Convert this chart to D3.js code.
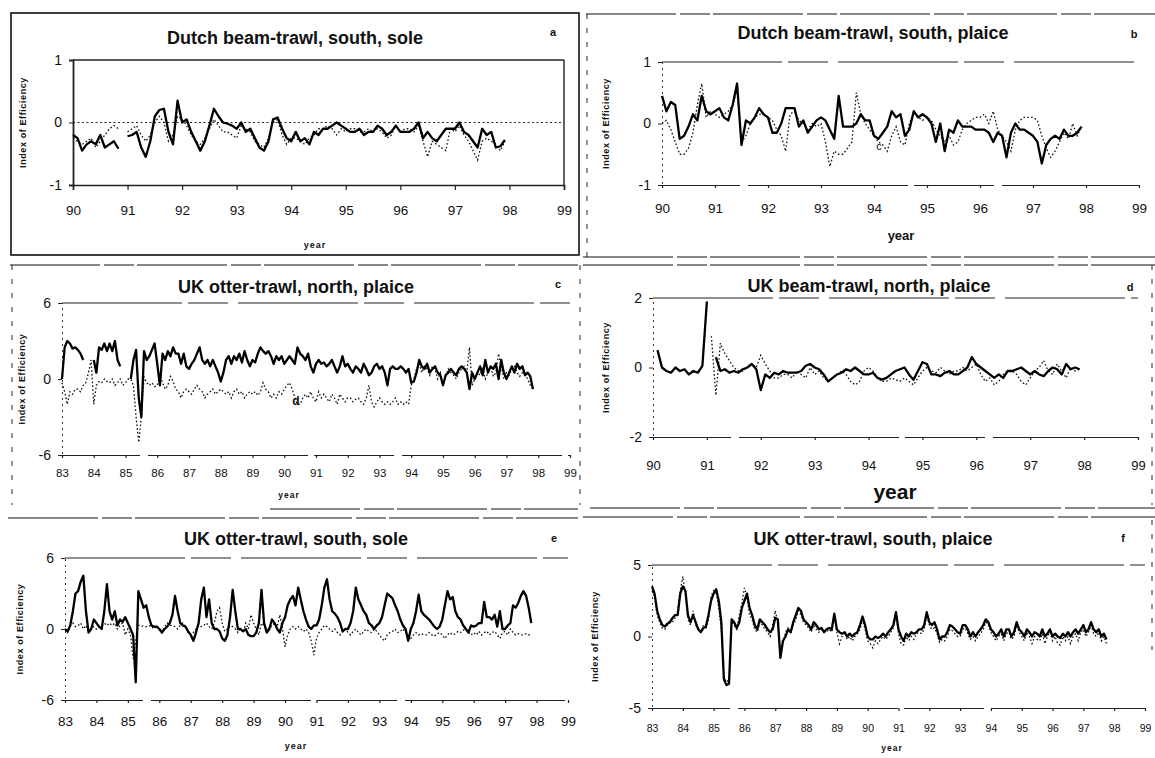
<!DOCTYPE html>
<html>
<head>
<meta charset="utf-8">
<script src="https://cdn.jsdelivr.net/npm/d3@7/dist/d3.min.js"></script>
<style>
  body { margin: 0; background: #fff; }
  svg { display: block; }
  text { font-family: "Liberation Sans", Arial, sans-serif; fill: #111; }
</style>
</head>
<body>
<svg id="fig" width="1155" height="758"></svg>
<script>
// monthly values, one row per year (Jan..Dec), null = no data
const shortYears = ["90", "91", "92", "93", "94", "95", "96", "97", "98", "99"];
const longYears = ["83", "84", "85", "86", "87", "88", "89", "90", "91", "92", "93", "94", "95", "96", "97", "98", "99"];

const aSolid = [
  [-0.2, -0.25, -0.45, -0.35, -0.3, -0.35, -0.2, -0.4, -0.35, -0.3, -0.42, null],
  [-0.22, -0.2, -0.15, -0.4, -0.55, -0.3, 0.1, 0.2, 0.22, -0.15, -0.35, 0.35],
  [0.0, 0.05, -0.15, -0.3, -0.45, -0.3, -0.05, 0.22, 0.1, 0.0, -0.02, -0.05],
  [-0.1, 0.0, -0.15, -0.1, -0.25, -0.4, -0.45, -0.3, 0.05, 0.08, -0.1, -0.25],
  [-0.3, -0.15, -0.3, -0.25, -0.35, -0.15, -0.2, -0.1, -0.1, -0.05, 0.0, -0.05],
  [-0.1, -0.15, -0.15, -0.1, -0.2, -0.15, -0.15, -0.05, -0.1, -0.2, -0.15, -0.05],
  [-0.15, -0.15, -0.15, -0.1, 0.0, -0.25, -0.15, -0.25, -0.3, -0.2, -0.1, -0.1],
  [-0.1, 0.0, -0.15, -0.2, -0.3, -0.4, -0.1, -0.2, -0.15, -0.4, -0.38, -0.28]
];
const aDotted = [
  [-0.25, -0.3, -0.35, -0.3, -0.25, -0.4, -0.3, -0.2, -0.1, -0.05, -0.1, null],
  [-0.15, -0.1, -0.05, -0.2, -0.3, -0.2, 0.0, 0.1, 0.0, -0.3, -0.2, 0.1],
  [0.05, -0.05, -0.2, -0.3, -0.35, -0.25, -0.1, 0.05, -0.05, -0.15, -0.15, -0.2],
  [-0.25, -0.05, -0.1, -0.15, -0.3, -0.35, -0.4, -0.25, 0.0, 0.05, -0.2, -0.35],
  [-0.25, -0.25, -0.3, -0.35, -0.25, -0.2, -0.1, -0.1, -0.05, -0.1, -0.2, -0.1],
  [-0.15, -0.1, -0.1, -0.15, -0.15, -0.1, -0.15, -0.1, -0.15, -0.25, -0.2, -0.05],
  [-0.15, -0.1, -0.1, -0.15, -0.05, -0.3, -0.55, -0.3, -0.35, -0.4, -0.45, -0.1],
  [-0.15, -0.05, -0.2, -0.3, -0.45, -0.6, -0.3, -0.25, -0.3, -0.35, -0.45, -0.3]
];

const bSolid = [
  [0.45, 0.2, 0.35, 0.3, -0.25, -0.2, -0.05, 0.15, 0.05, 0.45, 0.2, 0.15],
  [0.2, 0.25, 0.1, 0.05, 0.3, 0.65, -0.35, 0.05, 0.0, 0.1, 0.25, 0.15],
  [0.1, -0.15, -0.15, 0.0, 0.25, 0.25, 0.25, -0.05, 0.05, -0.15, -0.05, 0.05],
  [0.1, 0.05, -0.1, -0.25, 0.45, -0.05, -0.05, -0.05, 0.0, 0.15, 0.05, 0.05],
  [-0.2, -0.25, -0.15, -0.05, 0.2, 0.1, 0.15, -0.2, -0.1, 0.2, 0.1, 0.15],
  [0.1, 0.0, -0.3, 0.0, -0.45, -0.1, -0.15, 0.05, -0.05, -0.05, -0.05, -0.1],
  [-0.1, -0.1, -0.15, -0.3, -0.15, -0.2, -0.55, -0.15, 0.0, -0.1, -0.1, -0.15],
  [-0.2, -0.3, -0.65, -0.35, -0.25, -0.2, -0.25, -0.1, -0.2, -0.2, -0.15, -0.05]
];
const bDotted = [
  [0.0, 0.05, -0.1, -0.3, -0.5, -0.5, -0.4, -0.15, 0.3, 0.65, 0.1, 0.2],
  [0.15, 0.1, 0.15, 0.2, 0.3, 0.55, -0.3, -0.2, 0.0, 0.1, 0.15, 0.15],
  [0.1, 0.05, -0.1, -0.2, -0.45, 0.15, 0.2, 0.05, 0.0, -0.1, 0.0, -0.05],
  [0.0, -0.3, -0.7, -0.45, -0.5, -0.5, -0.4, -0.3, 0.5, 0.15, 0.0, -0.1],
  [-0.2, -0.3, -0.35, -0.45, -0.2, -0.05, -0.3, -0.35, 0.0, 0.15, 0.1, 0.05],
  [0.1, 0.05, -0.1, -0.2, -0.3, -0.2, -0.35, -0.3, -0.1, 0.0, 0.05, 0.1],
  [0.1, 0.15, 0.0, 0.2, -0.1, -0.2, -0.3, -0.45, -0.1, 0.05, 0.1, 0.1],
  [0.1, 0.05, -0.2, -0.4, -0.55, -0.45, -0.3, -0.15, -0.25, 0.0, -0.2, -0.05]
];

const cSolid = [
  [0.0, 2.5, 3.0, 2.8, 2.4, 2.5, 2.3, 2.0, 1.5, null, null, null],
  [1.5, 0.5, 2.5, 2.3, 2.8, 2.2, 2.8, 2.2, 3.0, 1.5, 1.0, null],
  [null, null, 0.0, 1.5, 2.3, -1.5, -3.0, 2.2, 1.5, 1.8, 2.3, 2.8],
  [1.2, -0.5, 2.0, 1.5, 2.2, 1.8, 2.5, 2.0, 2.0, 1.2, 2.0, 1.0],
  [0.8, 1.2, 1.5, 2.0, 2.5, 1.5, 1.2, 1.5, 1.0, 1.5, 1.0, 0.5],
  [-0.2, 0.5, 1.5, 1.8, 1.2, 1.8, 1.5, 2.0, 1.3, 2.2, 1.5, 1.0],
  [1.5, 1.3, 2.0, 2.5, 2.2, 2.0, 2.2, 1.8, 1.2, 1.8, 1.5, 1.8],
  [1.2, 1.5, 1.8, 1.5, 1.2, 2.5, 2.0, 1.8, 1.5, 2.0, 1.0, 0.5],
  [1.2, 1.5, 1.2, 1.3, 1.0, 1.2, 1.5, 1.0, 0.5, 1.0, 1.8, 1.0],
  [1.2, 0.8, 0.5, 1.0, 0.8, 0.5, 1.2, 0.8, 0.3, 0.5, 1.0, 1.2],
  [0.8, 1.0, 0.5, -0.5, 0.8, 1.0, 0.8, 0.8, 1.0, 0.8, 0.5, 0.8],
  [-0.3, -0.2, 0.5, 1.5, 1.0, 0.8, 1.2, 0.5, 0.8, 1.0, 0.5, 0.3],
  [-0.5, 0.3, 0.5, 0.8, 0.5, 0.3, 0.8, 1.0, 0.8, 0.5, -0.8, 0.5],
  [0.0, 0.5, 1.0, 0.3, 1.5, 0.5, 1.0, 0.8, 1.2, 0.0, 1.5, 0.5],
  [0.0, 0.5, 1.0, 0.5, 1.2, 0.8, 1.0, 0.3, 0.5, 0.2, -0.8, null]
];
const cDotted = [
  [-0.3, -1.0, -2.0, -1.0, -1.2, -0.8, -0.8, -1.0, -0.5, -0.3, 0.5, 1.5],
  [-2.0, -0.5, -0.2, -0.3, 0.0, -0.2, -0.3, 0.0, -0.5, -0.3, 0.0, -0.5],
  [-0.3, 0.0, 0.0, -0.5, -3.0, -5.0, -3.0, 0.2, -0.3, -0.5, -0.3, -0.6],
  [-0.5, 0.3, -0.3, -0.8, -0.5, 0.2, -0.2, -0.8, -1.0, -1.5, -1.0, -0.8],
  [-1.0, -1.2, -0.8, -0.5, -0.8, -1.0, -1.5, -1.2, -1.0, -0.8, -1.2, -1.0],
  [-0.8, -1.0, -1.2, -1.0, -1.5, -1.0, -0.8, -1.2, -1.0, -1.5, -1.2, -1.0],
  [-1.2, -1.0, -1.3, -1.0, -0.3, -0.8, -1.0, -1.5, -1.2, -1.5, -1.0, -1.2],
  [-0.8, -0.5, -0.3, -0.8, -1.5, -2.0, -2.0, -1.5, -1.2, -1.5, -1.0, -1.5],
  [-1.8, -1.0, -1.5, -1.2, -1.5, -1.8, -1.2, -1.5, -2.0, -1.2, -1.5, -1.8],
  [-1.5, -1.5, -1.8, -1.6, -1.5, -1.8, -2.0, -1.5, -0.5, -1.8, -2.2, -1.8],
  [-1.5, -1.8, -2.0, -1.8, -2.0, -1.8, -1.5, -2.0, -1.8, -2.0, -1.8, -2.0],
  [-0.5, 0.0, 0.8, 1.2, 0.5, 1.0, 0.8, 0.3, 1.0, 0.8, 0.0, 0.5],
  [-0.5, 0.2, 0.8, 0.5, 0.3, 0.0, 0.5, 0.8, 1.0, 0.5, 2.5, -0.5],
  [0.0, 0.5, 0.3, 0.8, 0.0, 0.5, 1.0, 0.2, 0.5, 2.0, 1.0, 0.0],
  [0.5, 0.3, 0.8, 1.0, 0.5, 0.2, 0.5, 0.3, 0.0, -0.5, -0.8, null]
];

const dSolid = [
  [null, 0.5, 0.0, -0.1, -0.15, 0.0, -0.1, -0.05, -0.2, -0.1, -0.15, 0.05],
  [1.9, null, 0.3, -0.1, -0.05, -0.15, -0.1, -0.15, -0.05, 0.0, 0.1, -0.05],
  [-0.65, -0.2, -0.3, -0.15, -0.2, -0.1, -0.15, -0.15, -0.15, -0.1, 0.05, 0.1],
  [0.0, -0.05, -0.2, -0.4, -0.3, -0.2, -0.15, -0.05, -0.1, 0.0, -0.1, -0.2],
  [-0.2, -0.15, -0.3, -0.35, -0.3, -0.2, -0.1, -0.05, 0.0, -0.2, -0.35, -0.1],
  [0.15, 0.1, -0.2, -0.2, -0.25, -0.15, -0.1, -0.2, -0.2, -0.1, 0.0, 0.3],
  [0.1, 0.0, -0.1, -0.2, -0.3, -0.2, -0.3, -0.1, -0.1, -0.05, 0.0, -0.1],
  [-0.2, -0.1, -0.2, -0.25, -0.1, 0.0, -0.05, -0.2, 0.1, -0.05, 0.0, -0.05]
];
const dDotted = [
  [null, null, null, null, null, null, null, null, null, null, null, null],
  [null, 0.9, -0.8, 0.7, 0.4, 0.2, 0.0, -0.1, -0.1, 0.0, 0.1, 0.0],
  [0.35, 0.1, -0.1, -0.3, -0.3, -0.2, -0.2, -0.3, -0.1, -0.2, -0.3, 0.0],
  [-0.2, -0.1, -0.3, -0.4, -0.3, -0.2, -0.1, -0.2, -0.4, -0.5, -0.4, -0.1],
  [0.0, -0.1, -0.3, -0.4, -0.4, -0.3, -0.35, -0.4, -0.3, -0.4, -0.5, -0.3],
  [-0.1, 0.0, -0.1, -0.15, 0.0, -0.1, -0.2, -0.1, -0.1, 0.0, -0.1, 0.0],
  [0.1, -0.2, -0.4, -0.3, -0.5, -0.4, -0.2, -0.1, -0.1, -0.2, -0.4, -0.5],
  [-0.3, -0.1, 0.0, 0.2, -0.1, -0.2, 0.1, -0.1, -0.3, 0.0, -0.1, -0.05]
];

const eSolid = [
  [0.0, -0.2, 0.3, 1.5, 3.0, 3.2, 4.0, 4.5, 1.5, -0.3, 0.0, 0.8],
  [0.5, 0.2, 0.0, 1.5, 3.8, 1.5, 0.8, 1.5, 0.3, 0.8, 0.6, 1.0],
  [0.5, 0.0, -0.5, -4.5, 3.2, 2.5, 1.8, 2.0, 1.0, 0.3, 0.2, 0.2],
  [0.0, -0.3, 0.0, 0.2, 0.5, 1.2, 2.8, 1.5, 0.5, 0.3, 0.2, -0.2],
  [-0.5, -1.0, -0.3, 0.5, 2.5, 3.5, 1.0, 2.5, 0.5, 0.0, 0.0, -0.2],
  [-0.8, -1.0, -0.5, 1.0, 3.3, 1.5, 0.0, 0.0, -0.2, 0.0, -0.5, -0.6],
  [-0.6, -0.3, 0.5, 3.3, 0.5, -0.3, 0.0, 0.8, 0.5, 0.0, -0.3, 0.5],
  [1.0, 2.0, 2.5, 2.8, 2.0, 3.5, 2.5, 1.5, 0.8, 0.2, 0.0, 0.3],
  [0.3, 0.8, 2.0, 3.5, 4.2, 2.5, 1.5, 1.3, 1.0, 0.5, -0.2, 0.0],
  [0.0, 0.5, 1.5, 3.5, 2.5, 2.0, 1.5, 1.2, 0.5, 0.3, 0.0, 0.3],
  [0.5, 1.0, 2.0, 3.0, 2.8, 2.6, 2.0, 1.5, 0.8, 0.3, 0.0, -1.0],
  [0.0, 0.5, 1.5, 2.9, 1.5, 1.2, 1.0, 0.8, 0.5, 0.2, 0.0, 0.2],
  [0.8, 2.0, 3.2, 2.5, 2.7, 1.5, 1.0, 0.8, 0.3, 0.0, -0.3, 0.3],
  [0.2, 0.3, 0.5, 0.5, 2.3, 1.0, 1.0, 0.8, 1.2, 0.2, 1.5, 0.0],
  [0.0, 0.3, 0.5, 2.0, 1.8, 2.2, 2.8, 3.2, 2.8, 1.8, 0.5, null]
];
const eDotted = [
  [0.0, -0.3, 0.3, 0.5, 0.2, 0.3, 0.5, 0.0, 0.3, -0.2, 0.0, 0.2],
  [0.0, 0.2, 0.3, 0.5, 0.3, 0.5, 0.3, 0.5, 0.0, 0.3, 0.5, -0.5],
  [0.0, -0.5, -2.5, -1.0, 0.3, 0.3, 0.2, 0.2, 0.3, 0.2, 0.0, 0.3],
  [0.0, -0.3, 0.2, 0.5, 0.3, 0.3, 0.2, 0.0, 0.3, 0.5, 0.2, -0.3],
  [-0.5, -0.3, 0.0, 0.3, 0.2, 0.3, 0.5, 0.2, 0.0, 0.5, 1.5, 1.8],
  [0.5, -0.2, 0.0, 0.3, 0.2, 0.0, -0.3, 0.0, -0.3, 0.5, 0.0, 1.2],
  [0.5, 0.0, -0.5, 0.5, 0.3, 0.0, 0.0, 0.3, 0.5, 0.2, 1.2, 0.0],
  [-1.5, -0.5, 0.0, 0.2, 0.0, 0.2, 0.0, -0.2, 0.0, -0.3, -1.0, -2.2],
  [-0.8, -0.3, 0.0, 0.3, 0.2, 0.0, -0.2, 0.0, -0.3, -0.5, -0.2, 0.0],
  [-0.3, -0.5, -0.2, 0.0, -0.3, -0.5, -0.2, 0.0, -0.2, -0.3, 0.0, -0.2],
  [-0.5, -0.8, -1.0, -0.5, -0.3, -0.2, 0.0, -0.3, -0.2, 0.0, -0.3, -0.5],
  [-0.8, -0.5, -0.3, -0.5, -0.4, -0.5, -0.5, -0.3, -0.5, -0.6, -0.4, -0.3],
  [-0.5, -0.8, -0.5, -0.3, -0.5, -0.4, -0.2, -0.3, -0.1, 0.0, -0.3, -0.5],
  [-0.3, -0.5, -0.2, -0.5, -0.3, -0.2, -0.5, -0.3, -0.2, -0.5, -0.8, -0.3],
  [-0.2, -0.5, 0.0, -0.3, -0.5, -0.4, -0.5, -0.5, -0.4, -0.5, -0.4, null]
];

const fSolid = [
  [3.5, 3.0, 1.8, 1.2, 0.8, 0.7, 0.9, 1.0, 1.3, 1.5, 1.5, 3.0],
  [3.5, 3.2, 1.5, 1.0, 1.5, 1.0, 0.5, 0.3, 0.6, 0.7, 1.5, 2.5],
  [3.0, 3.3, 2.5, 1.0, -3.0, -3.4, -3.3, 1.2, 1.0, 0.6, 1.0, 2.0],
  [2.5, 3.0, 2.0, 1.5, 0.8, 0.5, 1.2, 1.0, 0.8, 0.5, 0.3, 0.5],
  [1.3, 1.2, -1.5, -0.3, 0.0, 0.5, 0.3, 1.0, 1.5, 2.0, 1.8, 1.2],
  [1.0, 0.8, 0.5, 1.0, 0.8, 0.5, 0.6, 0.3, 0.5, 0.6, 0.5, 1.6],
  [0.5, 0.3, 0.2, 0.3, 0.0, 0.2, 0.0, 0.2, 0.3, 0.8, 1.4, 0.8],
  [0.0, -0.2, -0.2, 0.0, -0.1, 0.0, 0.2, 0.0, 0.3, 0.5, 0.8, 1.7],
  [0.5, 0.0, -0.3, 0.2, 0.0, 0.3, 0.2, 0.3, 0.5, 0.5, 0.8, 1.7],
  [1.0, 0.8, 1.0, 0.5, -0.2, 0.0, 0.0, 0.3, 0.8, 0.7, 0.5, 0.3],
  [0.2, 0.8, 0.8, 0.5, 0.0, 0.3, 0.0, 0.3, 0.5, 0.8, 1.2, 1.0],
  [0.5, 0.3, 0.0, 0.2, 0.5, 0.0, 0.5, 0.5, 0.0, 0.3, 1.0, 0.5],
  [0.3, 0.0, 0.5, 0.3, 0.0, 0.3, 0.2, 0.0, 0.5, 0.0, 0.2, 0.5],
  [0.0, 0.2, 0.0, -0.1, 0.2, 0.0, 0.3, 0.0, 0.3, 0.5, 0.2, 0.5],
  [0.8, 0.3, 0.5, 1.0, 0.5, 0.3, 0.5, 0.0, 0.2, -0.2, null, null]
];
const fDotted = [
  [3.2, 2.8, 1.5, 1.0, 0.6, 0.5, 0.8, 1.2, 1.0, 1.3, 1.8, 3.2],
  [4.2, 3.0, 1.2, 0.8, 1.8, 0.8, 0.6, 0.3, 0.8, 0.5, 1.2, 2.8],
  [3.2, 3.0, 2.0, 0.5, -2.8, -3.2, -3.0, 1.0, 0.8, 0.5, 1.5, 2.3],
  [3.4, 2.8, 1.5, 1.2, 0.5, 0.3, 1.0, 0.8, 0.5, 0.3, 0.0, 0.8],
  [1.8, 1.0, -1.3, -0.5, 0.3, 0.6, 0.2, 0.8, 1.2, 1.8, 1.5, 1.0],
  [0.8, 0.6, 0.3, 0.8, 0.5, 0.3, 0.4, 0.5, 0.3, 0.5, 0.3, 1.4],
  [0.3, -0.5, 0.0, 0.3, -0.2, 0.0, -0.3, 0.0, 0.2, 0.5, 1.2, 0.5],
  [-0.3, -0.5, -0.8, -0.3, -0.5, -0.2, 0.0, -0.2, 0.0, 0.3, 0.6, 1.5],
  [0.2, -0.5, -0.6, 0.0, -0.3, 0.0, -0.2, 0.2, 0.3, 0.2, 0.5, 1.5],
  [0.8, 0.5, 0.6, 0.2, -0.4, -0.2, -0.3, 0.0, 0.5, 0.4, 0.2, 0.0],
  [0.0, 0.5, 0.6, 0.2, -0.2, 0.0, -0.3, 0.0, 0.2, 0.5, 1.0, 0.8],
  [0.3, 0.0, -0.3, 0.0, 0.2, -0.3, 0.2, 0.3, -0.2, 0.0, 0.8, 0.3],
  [0.0, -0.3, 0.3, 0.0, -0.5, 0.0, -0.2, -0.3, 0.2, -0.5, 0.0, 0.3],
  [-0.3, 0.0, -0.5, -0.6, 0.0, -0.3, 0.0, -0.5, 0.0, 0.2, -0.3, 0.3],
  [0.5, 0.0, 0.3, 0.8, 0.2, 0.0, 0.3, -0.3, 0.0, -0.5, null, null]
];

// panel layout (positions only)
const panels = [
  { letter: "a", title: "Dutch beam-trawl, south, sole", labels: shortYears,
    solid: aSolid, dotted: aDotted, yDom: [-1, 1], yTicks: [-1, 0, 1],
    xr: [73, 564], yr: [185, 60], titleX: 295, titleY: 44, letX: 553, letY: 36,
    tickY: 211, tickFs: 13.5, ylabX: 24, yearX: 315, yearY: 248, yearFs: 9, framed: true },
  { letter: "b", title: "Dutch beam-trawl, south, plaice", labels: shortYears,
    solid: bSolid, dotted: bDotted, yDom: [-1, 1], yTicks: [-1, 0, 1],
    xr: [662, 1139], yr: [185, 62], titleX: 873, titleY: 39, letX: 1134, letY: 38,
    tickY: 209, tickFs: 13.5, ylabX: 607, yearX: 901, yearY: 240, yearFs: 13 },
  { letter: "c", title: "UK otter-trawl, north, plaice", labels: longYears,
    solid: cSolid, dotted: cDotted, yDom: [-6, 6], yTicks: [-6, 0, 6],
    xr: [62, 570], yr: [455, 303], titleX: 296, titleY: 293, letX: 558, letY: 288,
    tickY: 474, tickFs: 11.5, ylabX: 23, yearX: 289, yearY: 498, yearFs: 8.5 },
  { letter: "d", title: "UK beam-trawl, north, plaice", labels: shortYears,
    solid: dSolid, dotted: dDotted, yDom: [-2, 2], yTicks: [-2, 0, 2],
    xr: [653, 1138], yr: [437, 298], titleX: 869, titleY: 292, letX: 1130, letY: 291,
    tickY: 467, tickFs: 13, ylabX: 607, yearX: 895, yearY: 499, yearFs: 21 },
  { letter: "e", title: "UK otter-trawl, south, sole", labels: longYears,
    solid: eSolid, dotted: eDotted, yDom: [-6, 6], yTicks: [-6, 0, 6],
    xr: [65, 568], yr: [700, 558], titleX: 296, titleY: 545, letX: 554, letY: 542,
    tickY: 722, tickFs: 13.5, ylabX: 21, yearX: 296, yearY: 749, yearFs: 9 },
  { letter: "f", title: "UK otter-trawl, south, plaice", labels: longYears,
    solid: fSolid, dotted: fDotted, yDom: [-5, 5], yTicks: [-5, 0, 5],
    xr: [652, 1145], yr: [708, 565], titleX: 873, titleY: 545, letX: 1123, letY: 542,
    tickY: 729, tickFs: 10.5, ylabX: 596, yearX: 892, yearY: 751, yearFs: 8.5 }
];

const svg = d3.select("#fig");
svg.append("rect").attr("width", 1155).attr("height", 758).attr("fill", "#fff");

function monthly(rows, startYear) {
  const pts = [];
  rows.forEach((row, i) => row.forEach((v, m) => pts.push({ t: startYear + i + m / 12, v })));
  return pts;
}

// scanned page frame lines
const frame = svg.append("g").attr("stroke", "#111").attr("fill", "none");
frame.append("rect").attr("x", 11).attr("y", 13).attr("width", 568).attr("height", 242).attr("stroke-width", 1.6);
[[586, 1155, 14], [583, 1155, 257], [10, 578, 265], [583, 1155, 265], [8, 578, 518], [583, 1155, 517], [270, 578, 509], [590, 1155, 508]]
  .forEach(([x1, x2, yy]) => frame.append("line").attr("x1", x1).attr("x2", x2).attr("y1", yy).attr("y2", yy)
    .attr("stroke-width", 1.1).attr("stroke-dasharray", "90,4,30,3"));
[[587, 14, 257], [12, 265, 505], [580, 265, 505], [1152, 265, 505], [1152, 520, 650]]
  .forEach(([xx, y1, y2]) => frame.append("line").attr("x1", xx).attr("x2", xx).attr("y1", y1).attr("y2", y2)
    .attr("stroke-width", 0.9).attr("stroke-dasharray", "5,9"));

panels.forEach(p => {
  const years = p.labels.map(Number);
  const x = d3.scaleLinear().domain([years[0], years[years.length - 1]]).range(p.xr);
  const y = d3.scaleLinear().domain(p.yDom).range(p.yr);
  const g = svg.append("g");

  // top grid line (and frame for panel a)
  g.append("line").attr("x1", x.range()[0]).attr("x2", x.range()[1])
    .attr("y1", y(p.yDom[1])).attr("y2", y(p.yDom[1]))
    .attr("stroke", "#222").attr("stroke-width", p.framed ? 1.4 : 1)
    .attr("stroke-dasharray", p.framed ? null : "120,6,40,10");
  if (p.framed) {
    g.append("line").attr("x1", x.range()[1]).attr("x2", x.range()[1])
      .attr("y1", y(p.yDom[1])).attr("y2", y(p.yDom[0])).attr("stroke", "#222").attr("stroke-width", 1.4);
    g.append("line").attr("x1", x.range()[0]).attr("x2", x.range()[1])
      .attr("y1", y(0)).attr("y2", y(0)).attr("stroke", "#222").attr("stroke-width", 1)
      .attr("stroke-dasharray", "2,2.5");
  }

  const xAxis = g.append("g").attr("transform", `translate(0,${y(p.yDom[0])})`)
    .call(d3.axisBottom(x).tickValues(years).tickFormat((d, i) => p.labels[i]).tickSize(p.framed ? 5 : 3).tickPadding(0));
  xAxis.select(".domain").attr("stroke", "#222").attr("stroke-width", p.framed ? 1.6 : 1)
    .attr("stroke-dasharray", p.framed ? null : "80,8,160,6");
  xAxis.selectAll(".tick line").attr("stroke", "#222").attr("stroke-width", 1.2);
  xAxis.selectAll(".tick text").attr("y", null).attr("dy", null)
    .attr("transform", `translate(0,${p.tickY - y(p.yDom[0])})`)
    .attr("dominant-baseline", "middle")
    .style("font-size", p.tickFs + "px").style("font-family", "\"Liberation Sans\", Arial, sans-serif")
    .attr("fill", "#111");

  const yAxis = g.append("g").attr("transform", `translate(${x.range()[0]},0)`)
    .call(d3.axisLeft(y).tickValues(p.yTicks).tickFormat(d => String(d)).tickSize(4).tickPadding(7));
  yAxis.select(".domain").attr("stroke", "#222").attr("stroke-width", p.framed ? 1.8 : 0.9)
    .attr("stroke-dasharray", p.framed ? null : "2,4");
  yAxis.selectAll(".tick line").attr("stroke", "#222");
  yAxis.selectAll(".tick text").style("font-size", "14px")
    .style("font-family", "\"Liberation Sans\", Arial, sans-serif").attr("fill", "#111");

  const line = d3.line().defined(d => d.v !== null).x(d => x(d.t)).y(d => y(d.v));
  g.append("path").datum(monthly(p.dotted, years[0])).attr("d", line)
    .attr("fill", "none").attr("stroke", "#111").attr("stroke-width", 1.3)
    .attr("stroke-dasharray", "1.6,2.2");
  g.append("path").datum(monthly(p.solid, years[0])).attr("d", line)
    .attr("fill", "none").attr("stroke", "#000").attr("stroke-width", 2.3)
    .attr("stroke-linejoin", "round");

  g.append("text").attr("x", p.titleX).attr("y", p.titleY).attr("text-anchor", "middle")
    .style("font-size", "18px").style("font-weight", "bold").text(p.title);
  g.append("text").attr("x", p.letX).attr("y", p.letY).attr("text-anchor", "middle")
    .style("font-size", "11px").style("font-weight", "bold").text(p.letter);
  g.append("text").attr("transform", `translate(${p.ylabX},${(y.range()[0] + y.range()[1]) / 2}) rotate(-90)`)
    .attr("text-anchor", "middle").attr("dominant-baseline", "middle")
    .style("font-size", "9px").style("font-weight", "bold").style("letter-spacing", "0.6px")
    .text("Index of Efficiency");
  g.append("text").attr("x", p.yearX).attr("y", p.yearY).attr("text-anchor", "middle")
    .style("font-size", p.yearFs + "px").style("font-weight", "bold")
    .style("letter-spacing", p.yearFs < 10 ? "1px" : "0px").text("year");
});

// stray letters printed inside the plots of the scan
svg.append("text").attr("x", 879).attr("y", 150).attr("text-anchor", "middle")
  .style("font-size", "11px").text("c");
svg.append("text").attr("x", 296).attr("y", 405).attr("text-anchor", "middle")
  .style("font-size", "12px").style("font-weight", "bold").text("d");
</script>
</body>
</html>
